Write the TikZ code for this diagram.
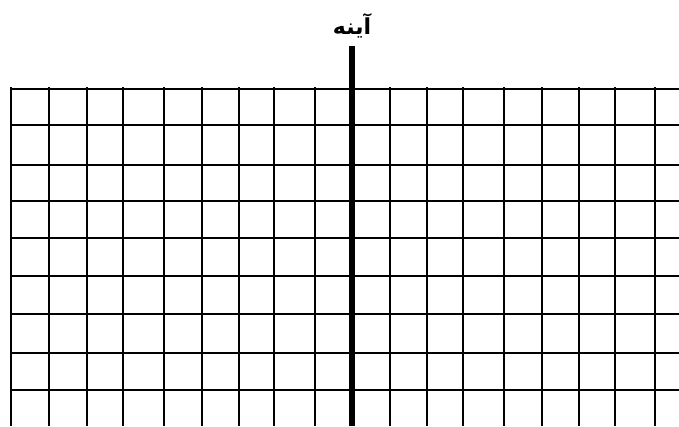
\documentclass[tikz,border=0pt]{standalone}
\usepackage{fontspec}
\usepackage{tikz}
\usetikzlibrary{positioning}
\newfontfamily\arabicfont[Script=Arabic]{DejaVu Sans}
\TeXXeTstate=1

\begin{document}
\begin{tikzpicture}[x=1pt, y=-1pt,
    gridline/.style={draw=black, line width=2pt},
    mirror/.style={draw=black, line width=6pt},
    caption/.style={font=\arabicfont\bfseries\fontsize{22}{26}\selectfont, inner sep=0pt}
]
    \useasboundingbox (0,0) rectangle (679,426);
    % grid
    \foreach \y in {89,125,164.5,201,238,275.5,314,352.5,390.3}
        \draw [gridline] (10,\y) -- (679,\y);
    \foreach \x in {11,49,86.5,122.5,164,201.5,238.5,274,315,389.5,426.5,462.5,504,541.5,578.5,615,655}
        \draw [gridline] (\x,87) -- (\x,426);
    % mirror
    \coordinate (mirrortop) at (352,46);
    \coordinate (mirrorbot) at (352,426);
    \draw [mirror] (mirrortop) -- (mirrorbot);
    \node [caption, above=8pt of mirrortop] (mirrorlabel) {\beginR آینه\endR};
\end{tikzpicture}
\end{document}
